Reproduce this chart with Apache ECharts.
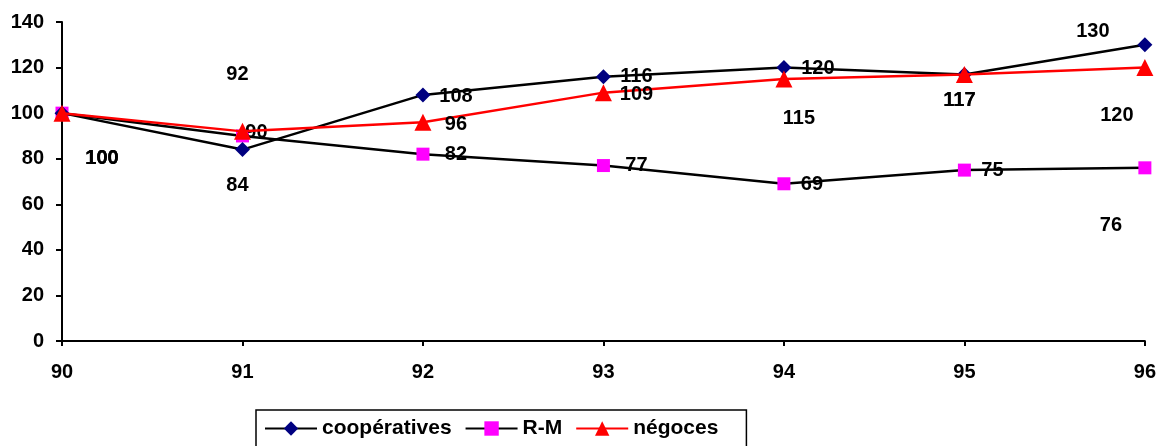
<!DOCTYPE html>
<html><head><meta charset="utf-8">
<script src="https://cdn.jsdelivr.net/npm/echarts@6/dist/echarts.min.js"></script>
<style>html,body{margin:0;padding:0;background:#fff}#c{width:1159px;height:446px}</style>
</head><body><div id="c"></div>
<script>
const categories = ['90','91','92','93','94','95','96'];
const cooperatives = [100, 84, 108, 116, 120, 117, 130];
const rm = [100, 90, 82, 77, 69, 75, 76];
const negoces = [100, 92, 96, 109, 115, 117, 120];
const yTicks = [0, 20, 40, 60, 80, 100, 120, 140];

// label offsets (layout only) relative to each point
const coopOffsets = [[40,45],[-5,36],[33,2],[33,0],[34,1],[-5,26],[-52,-13]];
const rmOffsets = [[40,45],[14,-3],[33,0],[33,0],[28,1],[28,0],[-34,58]];
const negOffsets = [[40,45],[-5,-57],[33,2],[33,2],[15,40],[-5,26],[-28,48]];

const font = '"Liberation Sans", Arial, sans-serif';
function mk(values, offs) {
  return values.map((v, i) => ({ value: v, label: { offset: offs[i] } }));
}
const lbl = { show: true, position: 'inside', color: '#000', fontSize: 20, fontWeight: 'bold', fontFamily: font };

const chart = echarts.init(document.getElementById('c'));
chart.setOption({
  animation: false,
  textStyle: { fontFamily: font },
  grid: { left: 62, right: 13, top: 22, bottom: 105, containLabel: false },
  legend: {
    top: 410, left: 256, itemGap: 13,
    padding: [8, 28, 14, 8],
    borderColor: '#000', borderWidth: 1.5,
    itemWidth: 52, itemHeight: 18,
    textStyle: { fontSize: 21, fontWeight: 'bold', color: '#000', fontFamily: font },
    data: ['coopératives', 'R-M', 'négoces']
  },
  xAxis: {
    type: 'category', data: categories, boundaryGap: false,
    axisLine: { lineStyle: { color: '#000', width: 2 } },
    axisTick: { show: true, length: 5, lineStyle: { color: '#000', width: 2 } },
    axisLabel: { color: '#000', fontSize: 20, fontWeight: 'bold', margin: 21 }
  },
  yAxis: {
    type: 'value', min: yTicks[0], max: yTicks[yTicks.length-1], interval: 20,
    axisLine: { show: true, lineStyle: { color: '#000', width: 2 } },
    axisTick: { show: true, length: 6, lineStyle: { color: '#000', width: 2 } },
    splitLine: { show: false },
    axisLabel: { color: '#000', fontSize: 20, fontWeight: 'bold', margin: 18 }
  },
  series: [
    { name: 'coopératives', type: 'line', data: mk(cooperatives, coopOffsets),
      symbol: 'diamond', symbolSize: 15, itemStyle: { color: '#000080' },
      lineStyle: { color: '#000', width: 2.5 }, label: lbl, z: 3 },
    { name: 'R-M', type: 'line', data: mk(rm, rmOffsets),
      symbol: 'rect', symbolSize: 13, itemStyle: { color: '#ff00ff' },
      lineStyle: { color: '#000', width: 2.5 }, label: lbl, z: 2 },
    { name: 'négoces', type: 'line', data: mk(negoces, negOffsets),
      symbol: 'triangle', symbolSize: 17, itemStyle: { color: '#ff0000' },
      lineStyle: { color: '#ff0000', width: 2.5 }, label: lbl, z: 4 }
  ]
});
</script></body></html>
